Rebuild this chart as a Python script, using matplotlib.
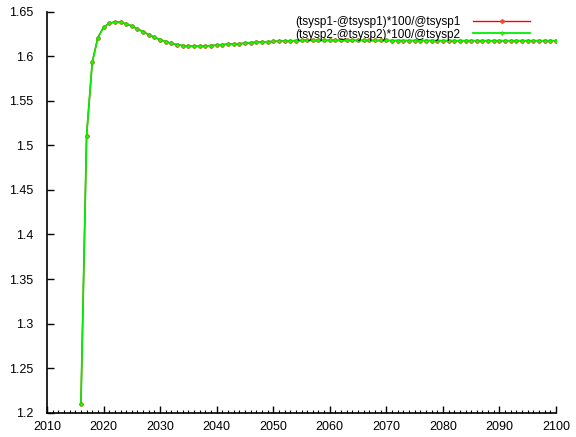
import matplotlib.pyplot as plt
import matplotlib.ticker as ticker

plt.rcParams['font.family'] = ['Liberation Sans', 'DejaVu Sans']

# Years and series values
years = list(range(2016, 2101))

series1 = [1.2098, 1.5109, 1.5933, 1.6210, 1.6325, 1.6370, 1.6385, 1.6382,
           1.6363, 1.6340, 1.6306, 1.6276, 1.6242, 1.6213, 1.6186, 1.6164,
           1.6146, 1.6130, 1.6120, 1.6116, 1.6112, 1.6112, 1.6116, 1.6120,
           1.6124, 1.6130, 1.6135, 1.6138, 1.6141, 1.6146, 1.6153, 1.6157,
           1.6160, 1.6163, 1.6166, 1.6169, 1.6171, 1.6173, 1.6175, 1.6177,
           1.6178, 1.6178, 1.6178, 1.6178, 1.6178, 1.6178, 1.6178, 1.6178,
           1.6178, 1.6178, 1.6177, 1.6177, 1.6177, 1.6177, 1.6177, 1.6176,
           1.6176, 1.6176, 1.6176, 1.6176, 1.6176, 1.6176, 1.6176, 1.6175,
           1.6175, 1.6175, 1.6175, 1.6175, 1.6175, 1.6175, 1.6175, 1.6175,
           1.6175, 1.6175, 1.6175, 1.6175, 1.6175, 1.6175, 1.6175, 1.6175,
           1.6175, 1.6175, 1.6175, 1.6175, 1.6175]
series2 = list(series1)

labels = ['(tsysp1-@tsysp1)*100/@tsysp1', '(tsysp2-@tsysp2)*100/@tsysp2']

fig = plt.figure(figsize=(5.76, 4.37), dpi=100)
ax = fig.add_axes([47 / 576, 1 - 412.7 / 437, 509 / 576, 401 / 437])

ax.plot(years, series1, color='#ff0000', lw=1.0, marker='P', ms=3.2,
        mec='#d06020', mfc='#ff3030', mew=0.3, label=labels[0])
ax.plot(years, series2, color='#00ee00', lw=1.3, marker='P', ms=2.6,
        mec='#40b000', mfc='#20ff00', mew=0.3, label=labels[1])

ax.set_xlim(2010, 2100)
ax.set_ylim(1.2, 1.65)
ax.xaxis.set_major_locator(ticker.MultipleLocator(10))
ax.xaxis.set_minor_locator(ticker.MultipleLocator(1))
ax.yaxis.set_major_locator(ticker.MultipleLocator(0.05))
ax.yaxis.set_major_formatter(ticker.FuncFormatter(lambda v, p: f'{v:g}'))

for s in ['top', 'right']:
    ax.spines[s].set_visible(False)
for s in ['left', 'bottom']:
    ax.spines[s].set_linewidth(1.2)

ax.tick_params(which='major', direction='in', length=5, width=1, labelsize=9)
ax.tick_params(axis='x', which='major', pad=6)
ax.tick_params(axis='y', which='major', pad=10)
ax.tick_params(which='minor', direction='in', length=2.5, width=0.8)

leg = fig.legend(loc='upper right', bbox_to_anchor=(530 / 576, 1 - 16 / 437),
                 frameon=False, markerfirst=False, fontsize=8.5,
                 handlelength=4.8, handletextpad=1.1, labelspacing=0.05,
                 borderpad=0, borderaxespad=0, numpoints=1)

fig.savefig('out.png', dpi=100)
